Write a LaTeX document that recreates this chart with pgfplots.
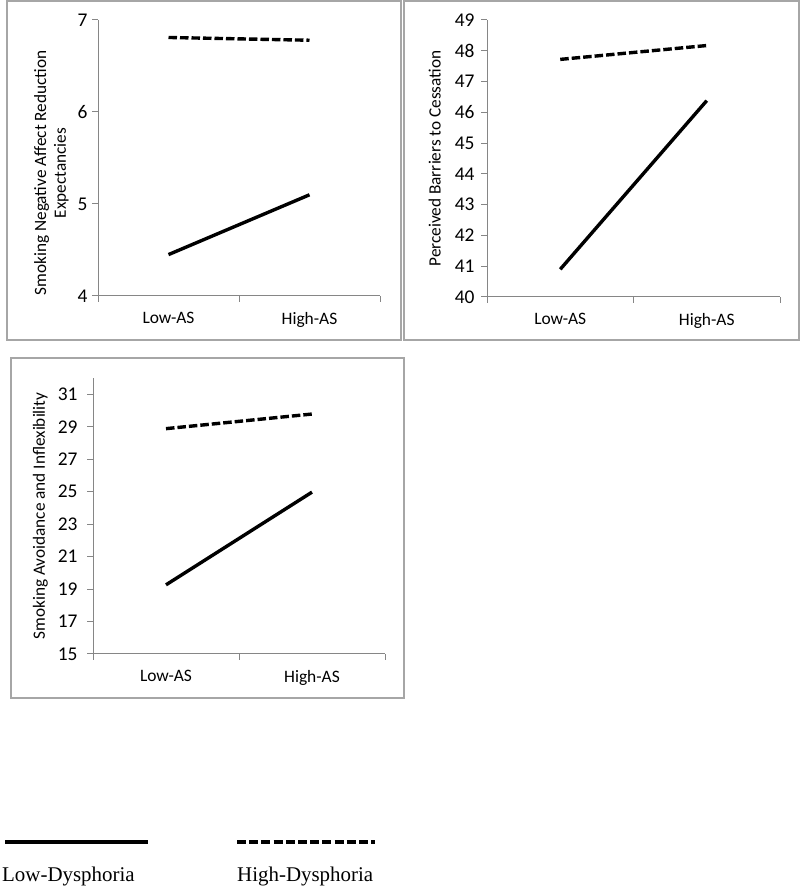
\documentclass[border=0pt]{standalone}
\usepackage{pgfplots}
\pgfplotsset{compat=1.18}
\usepackage{fontspec}
\setmainfont{Carlito}
\newfontfamily\legfont{Liberation Serif}
\definecolor{axgray}{HTML}{868686}
\definecolor{framegray}{HTML}{A6A6A6}
\pgfplotsset{
  panel/.style={
    scale only axis,
    anchor=south west,
    xmin=0, xmax=2,
    axis lines=left,
    axis line style={-, draw=axgray, line width=1bp},
    tick align=outside,
    xtick={0,1,2},
    xticklabels={},
    extra x ticks={0.5,1.5},
    extra x tick labels={Low-AS,High-AS},
    extra x tick style={major tick length=0pt, xticklabel style={yshift=-13bp, font=\fontsize{17.5}{20}\selectfont}},
    major tick length=6bp,
    every tick/.style={draw=axgray, line width=1bp},
    tick label style={font=\fontsize{19.5}{22}\selectfont, text=black},
    /pgf/number format/assume math mode=true,
    clip=false,
  },
  lowd/.style={black, line width=3.4bp, solid},
  highd/.style={black, line width=3.4bp, dash pattern=on 8.5bp off 3bp},
}
\begin{document}
\begin{tikzpicture}
\useasboundingbox (0bp,0bp) rectangle (800bp,887bp);
% frames
\draw[framegray, line width=1.3bp] (7bp,547bp) rectangle (401bp,886bp);
\draw[framegray, line width=1.3bp] (404bp,547bp) rectangle (799bp,886bp);
\draw[framegray, line width=1.3bp] (11bp,189bp) rectangle (404bp,529bp);

% Panel 1
\begin{axis}[panel, at={(98bp,591bp)}, width=282bp, height=276bp,
  ymin=4, ymax=7, ytick={4,5,6,7},
  yticklabel style={xshift=-1bp},
  ylabel style={at={(rel axis cs:-0.103,0.446)}, rotate=0, anchor=south, inner sep=0pt, align=center, font=\fontsize{17.3}{20}\selectfont},
  ylabel={Smoking Negative Affect Reduction\\Expectancies}]
\addplot[lowd] coordinates {(0.5,4.45) (1.5,5.10)};
\addplot[highd] coordinates {(0.5,6.81) (1.5,6.78)};
\end{axis}

% Panel 2
\begin{axis}[panel, at={(487bp,590bp)}, width=293bp, height=277bp,
  ymin=40, ymax=49, ytick={40,41,...,49},
  yticklabel style={xshift=-3bp},
  ylabel style={at={(rel axis cs:-0.157,0.5)}, anchor=south, inner sep=0pt, font=\fontsize{17.3}{20}\selectfont},
  ylabel={Perceived Barriers to Cessation}]
\addplot[lowd] coordinates {(0.5,40.90) (1.5,46.38)};
\addplot[highd] coordinates {(0.5,47.72) (1.5,48.17)};
\end{axis}

% Panel 3
\begin{axis}[panel, at={(93bp,233bp)}, width=292bp, height=276bp,
  ymin=15, ymax=32, ytick={15,17,...,31},
  yticklabel style={xshift=-6bp},
  ylabel style={at={(rel axis cs:-0.154,0.5)}, anchor=south, inner sep=0pt, font=\fontsize{17.3}{20}\selectfont},
  ylabel={Smoking Avoidance and Inflexibility}]
\addplot[lowd] coordinates {(0.5,19.26) (1.5,24.97)};
\addplot[highd] coordinates {(0.5,28.88) (1.5,29.78)};
\end{axis}

% legend
\draw[black, line width=3.8bp] (5bp,45bp) -- (148bp,45bp);
\draw[black, line width=3.5bp, dash pattern=on 9bp off 3.2bp] (237bp,45bp) -- (375bp,45bp);
\node[anchor=base west, inner sep=0pt] at (2bp,6bp) {\legfont\fontsize{21}{24}\selectfont Low-Dysphoria};
\node[anchor=base west, inner sep=0pt] at (237bp,6bp) {\legfont\fontsize{21}{24}\selectfont High-Dysphoria};
\end{tikzpicture}
\end{document}
